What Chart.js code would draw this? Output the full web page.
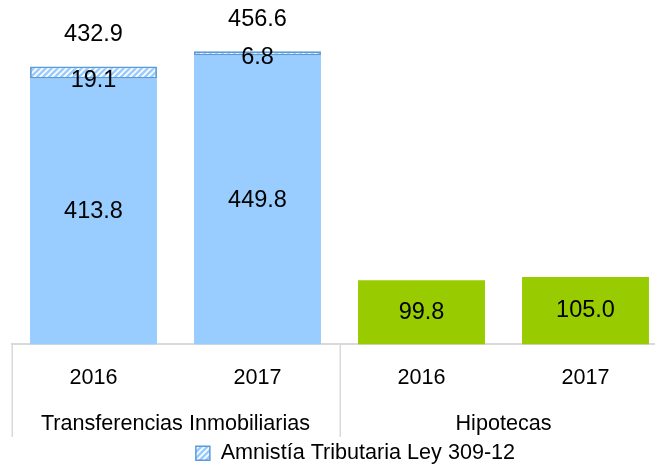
<!DOCTYPE html>
<html>
<head>
<meta charset="utf-8">
<script src="https://cdn.jsdelivr.net/npm/chart.js@4"></script>
<style>
  html, body { margin: 0; padding: 0; background: #fff; overflow: hidden; }
  .wrap { position: relative; width: 711px; height: 474px; }
</style>
</head>
<body>
<div class="wrap"><canvas id="chart"></canvas></div>
<script>
// data
const years = ['2016', '2017', '2016', '2017'];
const groups = ['Transferencias Inmobiliarias', 'Hipotecas'];
const baseValues = [413.8, 449.8, 99.8, 105.0];
const amnistiaValues = [19.1, 6.8, null, null];
const totalValues = [432.9, 456.6, null, null];

const FONT = '"Liberation Sans", Arial, sans-serif';
const blue = '#99CCFF';
const green = '#99CC00';
const hatchBorder = '#5B9BD5';
const dividerColor = '#d9d9d9';

// diagonal hatch for the amnesty segment
function makeHatch() {
  const c = document.createElement('canvas');
  c.width = 6; c.height = 6;
  const g = c.getContext('2d');
  g.fillStyle = '#fff';
  g.fillRect(0, 0, 6, 6);
  g.strokeStyle = blue;
  g.lineWidth = 2.6;
  g.beginPath();
  g.moveTo(-1, 7); g.lineTo(7, -1);
  g.moveTo(-4, 4); g.lineTo(4, -4);
  g.moveTo(2, 10); g.lineTo(10, 2);
  g.stroke();
  return g.createPattern(c, 'repeat');
}
const hatch = makeHatch();

// value labels, group labels and the divider lines under the axis
const labelsPlugin = {
  id: 'labels',
  afterDatasetsDraw(chart) {
    const { ctx, chartArea } = chart;
    const x = chart.scales.x;
    const base = chart.getDatasetMeta(0).data;
    const top = chart.getDatasetMeta(1).data;
    ctx.save();
    ctx.fillStyle = '#000';
    ctx.textAlign = 'center';
    ctx.textBaseline = 'middle';
    ctx.font = '23.5px ' + FONT;
    base.forEach((bar, i) => {
      ctx.fillText(baseValues[i].toFixed(1), bar.x, (bar.y + bar.base) / 2);
      if (amnistiaValues[i] != null) {
        const t = top[i];
        ctx.fillText(amnistiaValues[i].toFixed(1), t.x, t.base + 1.5);
        ctx.fillText(totalValues[i].toFixed(1), t.x, t.y - 32);
      }
    });

    // dividers between groups
    const y0 = chartArea.bottom;
    const y1 = y0 + 92.5;
    const half = (x.getPixelForValue(1) - x.getPixelForValue(0)) / 2;
    ctx.strokeStyle = dividerColor;
    ctx.lineWidth = 1.5;
    [0, 2, 4].forEach(k => {
      const px = Math.round(x.getPixelForValue(k) - half) + 0.25;
      ctx.beginPath();
      ctx.moveTo(px, y0);
      ctx.lineTo(px, y1);
      ctx.stroke();
    });

    // group names
    ctx.font = '21.6px ' + FONT;
    groups.forEach((g, k) => {
      const cx = (x.getPixelForValue(2 * k) + x.getPixelForValue(2 * k + 1)) / 2;
      ctx.fillText(g, cx, y0 + 80);
    });
    ctx.restore();
  }
};

new Chart(document.getElementById('chart'), {
  type: 'bar',
  data: {
    labels: years,
    datasets: [{
      label: 'Base',
      data: baseValues,
      backgroundColor: [blue, blue, green, green],
      borderWidth: 0,
      barPercentage: 0.774,
      categoryPercentage: 1
    }, {
      label: 'Amnistía Tributaria Ley 309-12',
      data: amnistiaValues,
      backgroundColor: hatch,
      borderColor: hatchBorder,
      borderWidth: 1.8,
      borderSkipped: false,
      barPercentage: 0.774,
      categoryPercentage: 1
    }]
  },
  options: {
    responsive: true,
    maintainAspectRatio: false,
    animation: false,
    layout: { padding: { left: 11.5, right: 11.5, top: 23.5, bottom: 0 } },
    plugins: {
      tooltip: { enabled: false },
      legend: {
        position: 'bottom',
        labels: {
          color: '#000',
          font: { family: FONT, size: 21.6 },
          boxWidth: 14,
          boxHeight: 14,
          padding: 0,
          filter: item => item.datasetIndex === 1,
          generateLabels: chart => [{
            text: chart.data.datasets[1].label,
            fillStyle: hatch,
            strokeStyle: hatchBorder,
            lineWidth: 1.5,
            datasetIndex: 1,
            fontColor: '#000'
          }]
        }
      }
    },
    scales: {
      x: {
        stacked: true,
        grid: { display: false },
        border: { display: true, color: dividerColor, width: 2 },
        ticks: { color: '#000', font: { family: FONT, size: 21.6 }, padding: 13 },
        afterFit: s => { s.height = 98; }
      },
      y: {
        stacked: true,
        position: 'right',
        min: 0,
        max: 500,
        grid: { display: false },
        border: { display: false },
        ticks: { display: false },
        afterFit: s => { s.width = 32; }
      }
    }
  },
  plugins: [labelsPlugin]
});
</script>
</body>
</html>
